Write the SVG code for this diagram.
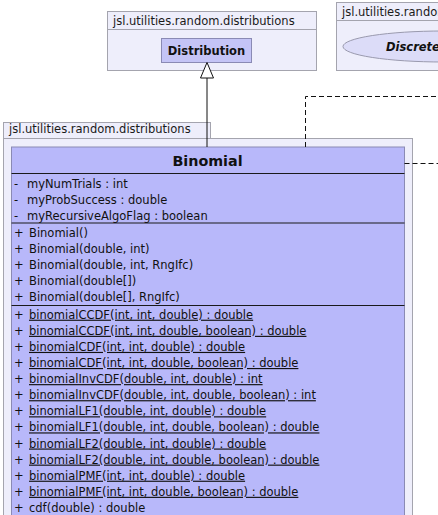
<svg xmlns="http://www.w3.org/2000/svg" width="438" height="515" viewBox="0 0 438 515">
<style>
  .pkg { fill: #EEEEFB; stroke: #A4A4AE; stroke-width: 1; }
  .pkglabel { font-family: "DejaVu Sans", Verdana, sans-serif; font-size: 11.5px; fill: #1a1a1a; }
  .cls { stroke: #8A8AB4; stroke-width: 1; }
  .sep { stroke: #1a1a1a; stroke-width: 1; }
  .title { font-family: "DejaVu Sans", Verdana, sans-serif; font-weight: bold; fill: #111; text-anchor: middle; }
  .m { font-family: "DejaVu Sans", Verdana, sans-serif; font-size: 11.5px; fill: #111; }
  .u { text-decoration: underline; }
  .dash { fill: none; stroke: #111; stroke-width: 1; stroke-dasharray: 5,3; }
</style>
<rect width="438" height="515" fill="#FFFFFF"/>

<g id="pkg-distributions-top">
  <rect class="pkg" x="107.5" y="11.5" width="209" height="59"/>
  <line x1="107.5" y1="29.5" x2="316.5" y2="29.5" stroke="#A4A4AE"/>
  <text class="pkglabel" x="113" y="24.5">jsl.utilities.random.distributions</text>
</g>

<g id="node-Distribution">
  <rect class="cls" x="161.5" y="38.5" width="90" height="24" fill="#C4C4F6"/>
  <text class="title" x="206.5" y="54.5" font-size="11.5">Distribution</text>
</g>

<g id="pkg-distributions-right">
  <rect class="pkg" x="336.5" y="2.5" width="130" height="68"/>
  <line x1="336.5" y1="20.5" x2="466.5" y2="20.5" stroke="#A4A4AE"/>
  <text class="pkglabel" x="342" y="15.5">jsl.utilities.random.distributions</text>
</g>

<g id="node-Discrete">
  <ellipse cx="443" cy="46.5" rx="100" ry="15.5" fill="#DCDCF8" stroke="#9A9AAE"/>
  <text x="386" y="51" font-family="'DejaVu Sans', Verdana, sans-serif" font-size="11.5" font-weight="bold" font-style="italic" fill="#111">Discrete</text>
</g>

<g id="pkg-distributions-main">
  <rect class="pkg" x="3.5" y="122.5" width="207" height="16"/>
  <rect class="pkg" x="3.5" y="138.5" width="409" height="400"/>
  <text class="pkglabel" x="9" y="133">jsl.utilities.random.distributions</text>
</g>

<g id="node-Binomial">
  <rect class="cls" x="11.5" y="147" width="393" height="390" fill="#B8B8FA"/>
  <text class="title" x="207.5" y="166" font-size="14.3">Binomial</text>
  <line class="sep" x1="11.5" y1="173.5" x2="404.5" y2="173.5"/>
  <g class="m">
    <text x="14" y="187.5">-</text><text x="27" y="187.5">myNumTrials : int</text>
    <text x="14" y="203.5">-</text><text x="27" y="203.5">myProbSuccess : double</text>
    <text x="14" y="219.5">-</text><text x="27" y="219.5">myRecursiveAlgoFlag : boolean</text>
  </g>
  <line class="sep" x1="11.5" y1="223" x2="404.5" y2="223"/>
  <g class="m">
    <text x="14" y="236.5">+</text><text x="29" y="236.5">Binomial()</text>
    <text x="14" y="252.7">+</text><text x="29" y="252.7">Binomial(double, int)</text>
    <text x="14" y="268.9">+</text><text x="29" y="268.9">Binomial(double, int, RngIfc)</text>
    <text x="14" y="285.1">+</text><text x="29" y="285.1">Binomial(double[])</text>
    <text x="14" y="301.3">+</text><text x="29" y="301.3">Binomial(double[], RngIfc)</text>
  </g>
  <line class="sep" x1="11.5" y1="305.5" x2="404.5" y2="305.5"/>
  <g class="m">
    <text x="14" y="318.7">+</text><text class="u" x="29" y="318.7">binomialCCDF(int, int, double) : double</text>
    <text x="14" y="334.8">+</text><text class="u" x="29" y="334.8">binomialCCDF(int, int, double, boolean) : double</text>
    <text x="14" y="350.9">+</text><text class="u" x="29" y="350.9">binomialCDF(int, int, double) : double</text>
    <text x="14" y="367">+</text><text class="u" x="29" y="367">binomialCDF(int, int, double, boolean) : double</text>
    <text x="14" y="383.1">+</text><text class="u" x="29" y="383.1">binomialInvCDF(double, int, double) : int</text>
    <text x="14" y="399.2">+</text><text class="u" x="29" y="399.2">binomialInvCDF(double, int, double, boolean) : int</text>
    <text x="14" y="415.3">+</text><text class="u" x="29" y="415.3">binomialLF1(double, int, double) : double</text>
    <text x="14" y="431.4">+</text><text class="u" x="29" y="431.4">binomialLF1(double, int, double, boolean) : double</text>
    <text x="14" y="447.5">+</text><text class="u" x="29" y="447.5">binomialLF2(double, int, double) : double</text>
    <text x="14" y="463.6">+</text><text class="u" x="29" y="463.6">binomialLF2(double, int, double, boolean) : double</text>
    <text x="14" y="479.7">+</text><text class="u" x="29" y="479.7">binomialPMF(int, int, double) : double</text>
    <text x="14" y="495.8">+</text><text class="u" x="29" y="495.8">binomialPMF(int, int, double, boolean) : double</text>
    <text x="14" y="511.9">+</text><text x="29" y="511.9">cdf(double) : double</text>
  </g>
</g>

<g id="connectors">
  <line x1="207" y1="78" x2="207" y2="147" stroke="#111" stroke-width="1"/>
  <polygon points="207,62.5 200.5,78 213.5,78" fill="#FFFFFF" stroke="#111" stroke-width="1"/>
  <path class="dash" d="M305.5,147 V96.5 H440"/>
  <path class="dash" d="M404.5,163.5 H440"/>
</g>
</svg>
